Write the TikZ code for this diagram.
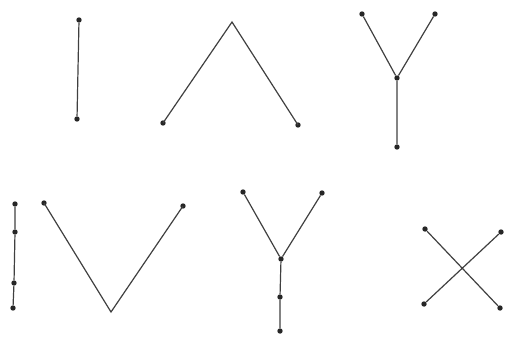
\documentclass[tikz,border=0pt]{standalone}
\begin{document}
\begin{tikzpicture}[x=1pt,y=-1pt,
  dot/.style={circle,fill=black!85,inner sep=0pt,minimum size=5.4pt},
  edge/.style={draw=black!75,line width=1.2pt}]
\useasboundingbox (0,0) rectangle (506,338);
% figure 1
\node[dot] (a1) at (79,20) {};
\node[dot] (a2) at (77,119) {};
\draw[edge] (a1) -- (a2);
% figure 2
\node[dot] (b1) at (163,123) {};
\coordinate (b2) at (232,22);
\node[dot] (b3) at (298,125) {};
\draw[edge] (b1.center) -- (b2) -- (b3.center);
% figure 3
\node[dot] (c1) at (362,14) {};
\node[dot] (c2) at (435,14) {};
\node[dot] (c3) at (397,78) {};
\node[dot] (c4) at (397,147) {};
\draw[edge] (c1) -- (c3) (c2) -- (c3) (c3) -- (c4);
% figure 4
\node[dot] (d1) at (15,204) {};
\node[dot] (d2) at (15,232) {};
\node[dot] (d3) at (14,283) {};
\node[dot] (d4) at (13,308) {};
\draw[edge] (d1) -- (d2) -- (d3) -- (d4);
% figure 5
\node[dot] (e1) at (44,203) {};
\coordinate (e2) at (111,312);
\node[dot] (e3) at (183,206) {};
\draw[edge] (e1.center) -- (e2) -- (e3.center);
% figure 6
\node[dot] (f1) at (243,192) {};
\node[dot] (f2) at (322,193) {};
\node[dot] (f3) at (281,259) {};
\node[dot] (f4) at (280,297) {};
\node[dot] (f5) at (280,331) {};
\draw[edge] (f1) -- (f3) (f2) -- (f3) (f3) -- (f4) -- (f5);
% figure 7
\node[dot] (g1) at (425,229) {};
\node[dot] (g2) at (501,232) {};
\node[dot] (g3) at (424,304) {};
\node[dot] (g4) at (500,308) {};
\draw[edge] (g1) -- (g4) (g2) -- (g3);
\end{tikzpicture}
\end{document}
